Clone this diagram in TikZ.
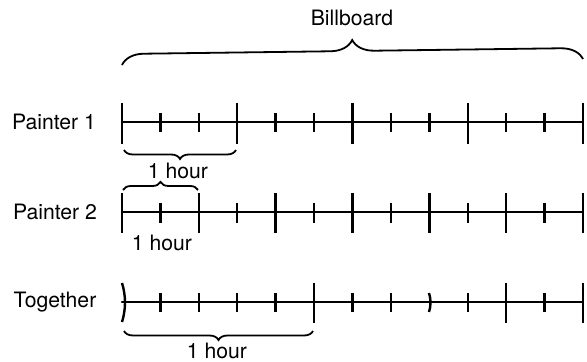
\documentclass[tikz,border=0pt]{standalone}
\usepackage{fontspec}
\setmainfont{TeX Gyre Heros}
\usetikzlibrary{decorations.pathreplacing}

\tikzset{
    timeline/.style={line width=1.2pt, line cap=round},
    tickmark/.style={line width=1.2pt},
    hourbrace/.style={decorate, decoration={brace, amplitude=#1}, line width=0.9pt},
    lbl/.style={font=\fontsize{10.6}{12}\selectfont, inner sep=0pt}
}

\begin{document}
\begin{tikzpicture}[x=0.5pt, y=-0.5pt]
            \useasboundingbox (0,0) rectangle (587,362);

            % row labels
            \node [lbl] (p1) at (54,122) {Painter 1};
            \node [lbl] (p2) at (55,212) {Painter 2};
            \node [lbl] (tog) at (55,302) {Together};

            % billboard
            \coordinate (bbs) at (122,65);
            \coordinate (bbe) at (583,59);
            \draw [hourbrace=11pt] (bbs) -- (bbe);
            \node [lbl] (billboard) at (352,18) {Billboard};

            % Painter 1: 4 hours
            \coordinate (p1s) at (122,122);
            \coordinate (p1e) at (583,122);
            \draw [timeline] (p1s) -- (p1e);
            \foreach \i in {0,3,6,9,12}
                \draw [tickmark] ({122+\i*38.42},103) -- ({122+\i*38.42},144);
            \foreach \i in {1,2,4,5,7,8,10,11}
                \draw [tickmark] ({122+\i*38.42},113) -- ({122+\i*38.42},132);
            \coordinate (h1s) at (124,150);
            \coordinate (h1e) at (236,150);
            \draw [hourbrace=4.5pt] (h1e) -- (h1s);
            \node [lbl] (h1) at (178,171) {1 hour};

            % Painter 2: 6 hours
            \coordinate (p2s) at (122,212);
            \coordinate (p2e) at (583,212);
            \draw [timeline] (p2s) -- (p2e);
            \foreach \i in {0,2,4,6,8,10,12}
                \draw [tickmark] ({122+\i*38.42},193) -- ({122+\i*38.42},233);
            \foreach \i in {1,3,5,7,9,11}
                \draw [tickmark] ({122+\i*38.42},203) -- ({122+\i*38.42},223);
            \coordinate (h2s) at (123,190);
            \coordinate (h2e) at (198,190);
            \draw [hourbrace=4pt] (h2s) -- (h2e);
            \node [lbl] (h2) at (162,243) {1 hour};

            % together: 12/5 hours
            \coordinate (tgs) at (122,302);
            \coordinate (tge) at (583,302);
            \draw [timeline] (tgs) -- (tge);
            \draw [tickmark] (122,283) .. controls (126,296) and (126,309) .. (122,322);
            \foreach \i in {5,10,12}
                \draw [tickmark] ({122+\i*38.42},283) -- ({122+\i*38.42},323);
            \foreach \i in {1,2,3,4,6,7,9,11}
                \draw [tickmark] ({122+\i*38.42},293) -- ({122+\i*38.42},312);
            \draw [tickmark] (429,293) .. controls (431,299) and (431,306) .. (429,312);
            \coordinate (h3s) at (124,331);
            \coordinate (h3e) at (313,331);
            \draw [hourbrace=4.5pt] (h3e) -- (h3s);
            \node [lbl] (h3) at (217,351) {1 hour};
        \end{tikzpicture}
\end{document}
